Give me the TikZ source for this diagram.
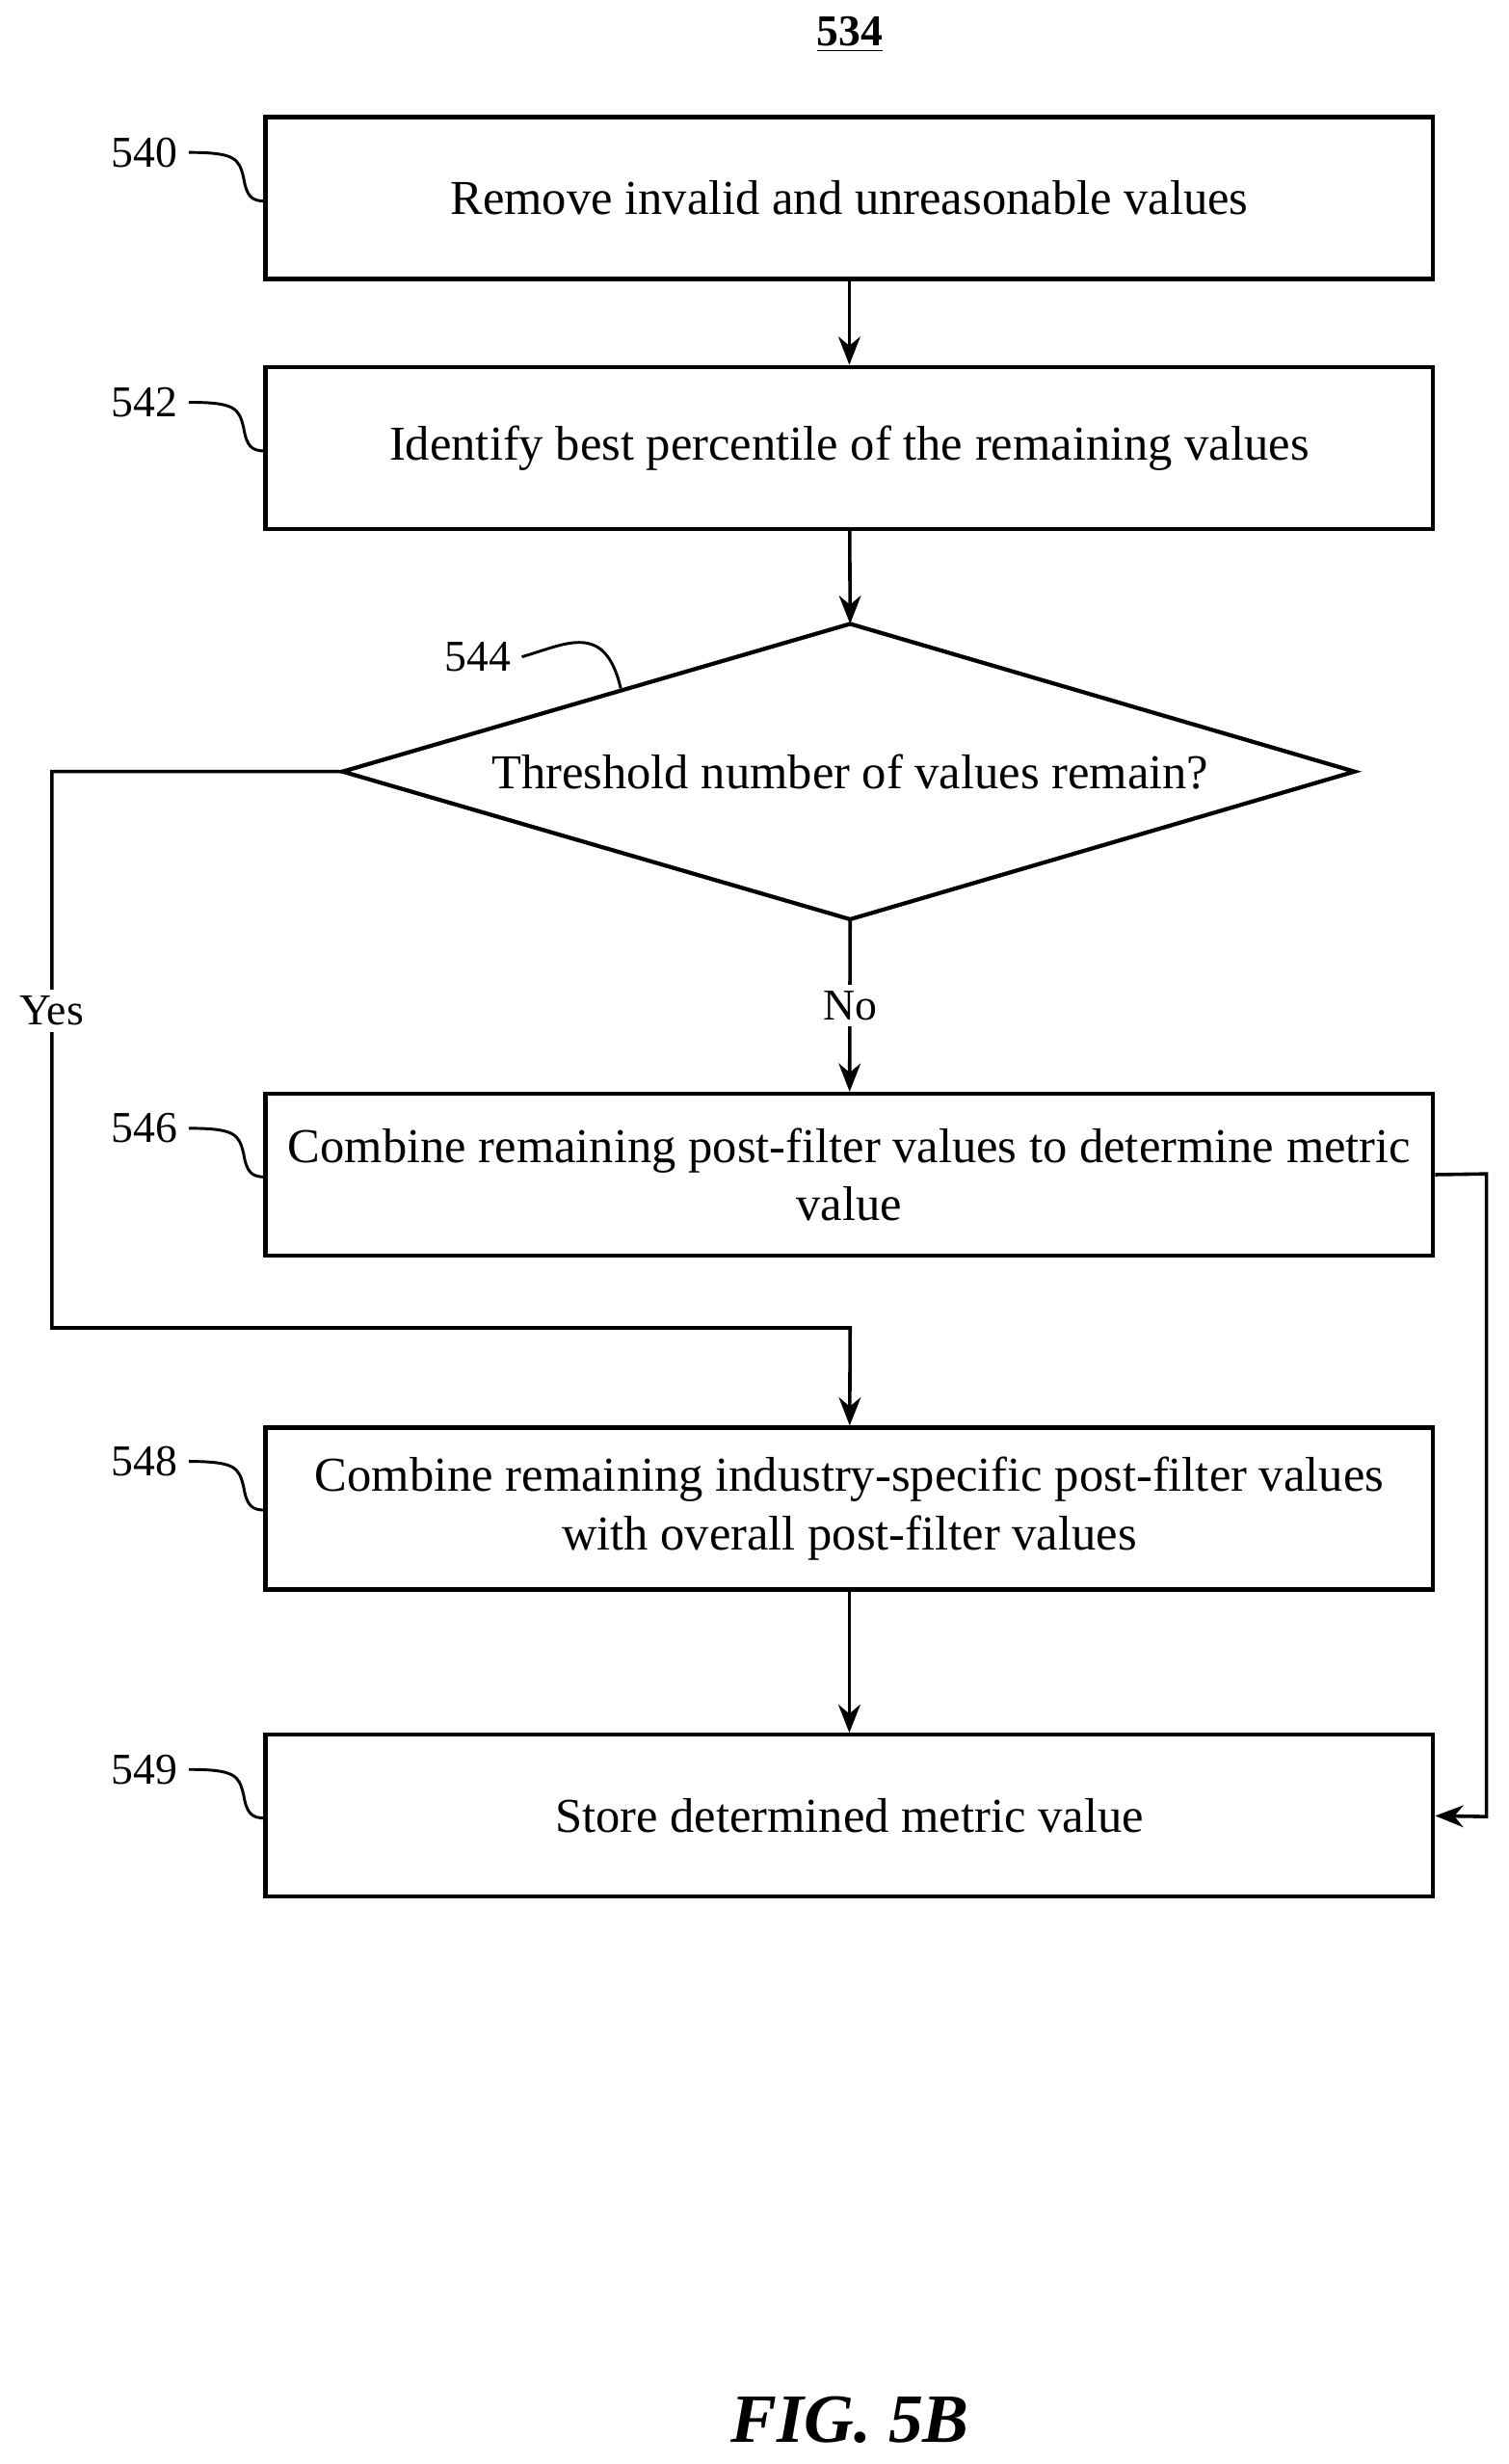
\documentclass[tikz,border=0pt]{standalone}
\usepackage{fontspec}
\setmainfont{Liberation Serif}
\usetikzlibrary{arrows.meta}
\begin{document}
\begin{tikzpicture}[x=0.5pt,y=-0.5pt,
  box/.style={draw,line width=1.3pt,minimum width=371.5pt,minimum height=51.5pt,align=center,font=\fontsize{15.5}{18.5}\selectfont},
  lbl/.style={font=\fontsize{14}{16}\selectfont},
  arr/.style={line width=1.1pt,-{Stealth[length=9pt,width=7pt]}},
  sq/.style={line width=0.9pt}]
\useasboundingbox (0,0) rectangle (960,1568);
\node[font=\bfseries\fontsize{14}{16}\selectfont] (t) at (541,22) {\underline{534}};
\node[box] (b540) at (540.5,126) {Remove invalid and unreasonable values};
\node[box] (b542) at (540.5,285) {Identify best percentile of the remaining values};
\draw[line width=1.3pt] (541,397) coordinate (dt) -- (862,491) coordinate (dr) -- (541,585) coordinate (db) -- (218,491) coordinate (dl) -- cycle;
\node[font=\fontsize{15.5}{18.5}\selectfont] (d544) at (541,491) {Threshold number of values remain?};
\node[box] (b546) at (540.5,747.5) {Combine remaining post-filter values to determine metric\\value};
\node[box] (b548) at (540.5,960) {Combine remaining industry-specific post-filter values\\with overall post-filter values};
\node[box] (b549) at (540.5,1155.5) {Store determined metric value};
% labels
\foreach \n/\y in {540/97,542/256,546/718,548/930,549/1126}{
  \node[lbl] (l\n) at (92,\y) {\n};
  \draw[sq] (l\n.east) .. controls (150,\y) and (152,\y+4) .. (155,\y+16) .. controls (157,\y+28) and (160,\y+31) .. (169,\y+31);
}
\node[lbl] (l544) at (304,418) {544};
\draw[sq] (l544.east) .. controls (360,410) and (385,395) .. (395,438);
% connectors
\draw[arr] (b540) -- (b542);
\draw[arr] (b542) -- (dt);
\draw[arr] (db) -- node[fill=white,lbl,inner sep=2pt] (no) {No} (b546);
\draw[arr] (dl) -- (33,491) -- node[fill=white,lbl,pos=0.43,inner sep=2pt] (yes) {Yes} (33,845) -- (541,845) -- (b548);
\draw[arr] (b548) -- (b549);
\draw[arr] (b546.east) -- (946,747) -- (946,1156) -- (b549.east);
\node[font=\bfseries\itshape\fontsize{22}{26}\selectfont] (fig) at (541,1540) {FIG. 5B};
\end{tikzpicture}
\end{document}
